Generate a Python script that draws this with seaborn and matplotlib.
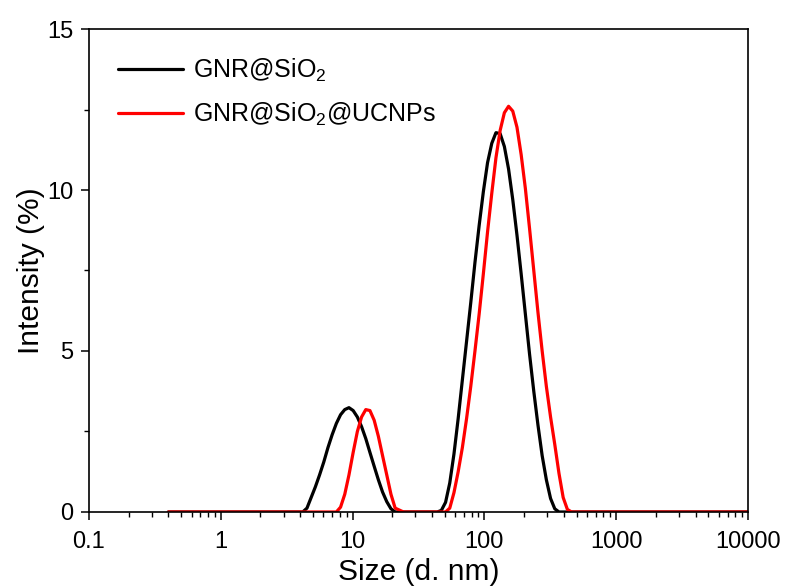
import pandas as pd
import matplotlib
matplotlib.use("Agg")
import matplotlib.pyplot as plt
import matplotlib.ticker as mticker
import seaborn as sns

# DLS size bins (nm), read more densely across the peaks
sizes = [0.4, 0.4632, 0.5365, 0.6213, 0.7195, 0.8332, 0.9649, 1.117, 1.294, 1.499,
         1.736, 2.01, 2.328, 2.696, 3.122, 3.615,
         4.187, 4.506, 4.849, 5.218, 5.615, 6.043, 6.503, 6.998, 7.531, 8.104,
         8.721, 9.385, 10.1, 10.87, 11.7, 12.59, 13.54, 14.58, 15.69, 16.88,
         18.17, 19.55, 21.04,
         24.36, 28.21, 32.67, 37.84,
         43.82, 47.16, 50.75, 54.61, 58.77, 63.25, 68.06, 73.25, 78.82, 84.82,
         91.28, 98.23, 105.7, 113.8, 122.4, 131.7, 141.8, 152.6, 164.2, 176.7,
         190.1, 204.6, 220.2, 237.0, 255.0, 274.4, 295.3, 317.8, 342.0, 368.1,
         396.1, 426.3, 458.7,
         531.2, 615.1, 712.4, 825.0, 955.4, 1106, 1281, 1484, 1718, 1990,
         2305, 2669, 3091, 3580, 4145, 4801, 5560, 6439, 7456, 8635, 10000]

# Intensity (%)
gnr_sio2 = [0, 0, 0, 0, 0, 0, 0, 0, 0, 0,
            0, 0, 0, 0, 0, 0,
            0, 0.12, 0.45, 0.78, 1.15, 1.55, 2.0, 2.4, 2.75, 3.02,
            3.18, 3.24, 3.15, 2.95, 2.65, 2.28, 1.85, 1.42, 1.0, 0.62,
            0.32, 0.1, 0,
            0, 0, 0, 0,
            0, 0.05, 0.3, 0.9, 1.8, 2.9, 4.1, 5.3, 6.5, 7.75,
            8.9, 9.95, 10.85, 11.45, 11.78, 11.75, 11.35, 10.65, 9.7, 8.6,
            7.4, 6.15, 4.9, 3.75, 2.7, 1.75, 1.0, 0.42, 0.1, 0,
            0, 0, 0,
            0, 0, 0, 0, 0, 0, 0, 0, 0, 0,
            0, 0, 0, 0, 0, 0, 0, 0, 0, 0, 0]

gnr_sio2_ucnps = [0, 0, 0, 0, 0, 0, 0, 0, 0, 0,
                  0, 0, 0, 0, 0, 0,
                  0, 0, 0, 0, 0, 0, 0, 0, 0, 0.15,
                  0.55, 1.15, 1.85, 2.5, 2.95, 3.18, 3.15, 2.85, 2.35, 1.75,
                  1.15, 0.55, 0.12,
                  0, 0, 0, 0,
                  0, 0, 0, 0.12, 0.6, 1.25, 2.0, 2.9, 3.9, 5.0,
                  6.15, 7.4, 8.7, 9.9, 11.0, 11.85, 12.4, 12.6, 12.45, 11.95,
                  11.1, 10.05, 8.8, 7.5, 6.2, 5.0, 3.9, 2.95, 2.1, 1.2,
                  0.45, 0.08, 0,
                  0, 0, 0, 0, 0, 0, 0, 0, 0, 0,
                  0, 0, 0, 0, 0, 0, 0, 0, 0, 0, 0]

labels = ["GNR@SiO$_2$", "GNR@SiO$_2$@UCNPs"]
colors = ["#000000", "#ff0000"]

df = pd.concat([
    pd.DataFrame({"size": sizes, "intensity": gnr_sio2, "sample": labels[0]}),
    pd.DataFrame({"size": sizes, "intensity": gnr_sio2_ucnps, "sample": labels[1]}),
])

sns.set_style("ticks")
plt.rcParams['font.family'] = ['Liberation Sans', 'DejaVu Sans']
plt.rcParams['mathtext.fontset'] = 'custom'
plt.rcParams['mathtext.rm'] = 'Liberation Sans'
plt.rcParams['mathtext.it'] = 'Liberation Sans:italic'
plt.rcParams['text.color'] = 'black'
plt.rcParams['axes.labelcolor'] = 'black'
plt.rcParams['xtick.color'] = 'black'
plt.rcParams['ytick.color'] = 'black'

fig = plt.figure(figsize=(7.89, 5.86), dpi=100)
ax = fig.add_axes([0.1128, 0.1263, 0.8352, 0.8242])

sns.lineplot(data=df, x="size", y="intensity", hue="sample",
             palette=colors, linewidth=2.3, ax=ax, legend=False)

ax.set_xscale("log")
ax.set_xlim(0.1, 10000)
ax.set_ylim(0, 15)
ax.xaxis.set_major_locator(mticker.FixedLocator([0.1, 1, 10, 100, 1000, 10000]))
ax.xaxis.set_major_formatter(mticker.FixedFormatter(["0.1", "1", "10", "100", "1000", "10000"]))
ax.xaxis.set_minor_locator(mticker.LogLocator(base=10, subs=range(2, 10), numticks=20))
ax.xaxis.set_minor_formatter(mticker.NullFormatter())
ax.yaxis.set_major_locator(mticker.MultipleLocator(5))
ax.yaxis.set_minor_locator(mticker.MultipleLocator(2.5))

ax.tick_params(which="major", direction="out", length=6, width=1.1, labelsize=17)
ax.tick_params(axis="x", which="major", pad=8)
ax.tick_params(axis="y", which="major", pad=5)
ax.tick_params(which="minor", direction="out", length=3.5, width=1.0)
for s in ax.spines.values():
    s.set_linewidth(1.2)
    s.set_color("black")

ax.set_xlabel("Size (d. nm)", fontsize=21.5, labelpad=3)
ax.set_ylabel("Intensity (%)", fontsize=21.5, labelpad=2)

handles = [plt.Line2D([], [], color=c, linewidth=2.3) for c in colors]
ax.legend(handles, labels, loc="upper left", bbox_to_anchor=(0.01, 0.99),
          frameon=False, fontsize=18, handlelength=2.6, handletextpad=0.4,
          labelspacing=0.7)

fig.savefig("out.png", dpi=100)
